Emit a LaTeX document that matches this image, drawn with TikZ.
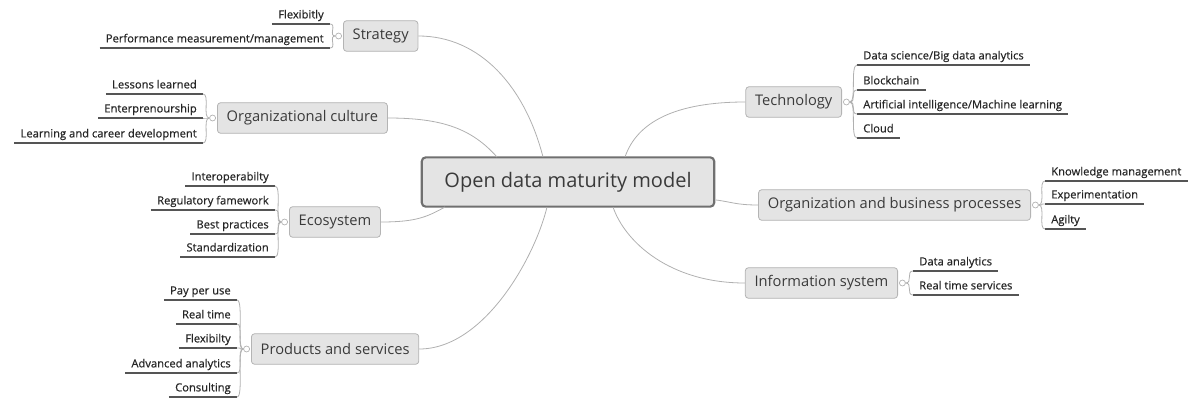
\documentclass[tikz,border=0pt]{standalone}
\usepackage{fontspec}
\setmainfont{Open Sans}
\newfontfamily\leaffont[FakeBold=0.6]{Open Sans}
\usetikzlibrary{positioning}

\definecolor{boxfill}{HTML}{E4E4E4}
\definecolor{rootline}{HTML}{707070}
\definecolor{topicline}{HTML}{B4B4B4}
\definecolor{linkgray}{HTML}{B0B0B0}
\definecolor{ulinegray}{HTML}{555555}
\definecolor{textdark}{HTML}{3A3A3A}

\begin{document}
\begin{tikzpicture}[
    x=0.75pt, y=-0.75pt,
    root/.style={
        draw=rootline,
        line width=1.6pt,
        rounded corners=3pt,
        fill=boxfill,
        inner xsep=17pt,
        minimum height=37pt,
        font=\fontsize{15}{18}\selectfont,
        text=textdark,
    },
    topic/.style={
        draw=topicline,
        line width=0.6pt,
        rounded corners=2.5pt,
        fill=boxfill,
        inner xsep=7pt,
        minimum height=23pt,
        font=\fontsize{11}{13}\selectfont,
        text=textdark,
    },
    knob/.style={
        circle,
        draw=linkgray,
        fill=white,
        inner sep=0pt,
        minimum size=4.5pt,
        line width=0.5pt,
    },
    uline/.style={draw=ulinegray, line width=1.2pt},
    leaf/.style={
        inner xsep=4.5pt,
        inner ysep=4pt,
        text depth=0pt,
        text=black!85,
        font=\leaffont\fontsize{8.4}{10}\selectfont,
        append after command={(\tikzlastnode.south west) edge[uline] (\tikzlastnode.south east)},
    },
    leafL/.style={leaf, anchor=south east},
    leafR/.style={leaf, anchor=south west},
    link/.style={draw=linkgray, line width=0.6pt},
]
    \useasboundingbox (0,0) rectangle (1194,403);

    % Central topic
    \node[root] (odmm) at (568,182) {Open data maturity model};

    % Main topics, left
    \node[topic, anchor=west] (strategy) at (343,36) {Strategy};
    \node[topic, anchor=west] (culture) at (217,118) {Organizational culture};
    \node[topic, anchor=west] (ecosys) at (289,222) {Ecosystem};
    \node[topic, anchor=west] (products) at (251,349) {Products and services};

    % Main topics, right
    \node[topic, anchor=east] (tech) at (842,102) {Technology};
    \node[topic, anchor=east] (business) at (1031,205) {Organization and business processes};
    \node[topic, anchor=east] (infosys) at (898,283) {Information system};

    % Links to the central topic
    \draw[link] (strategy.east) .. controls +(62,0) and +(-18,-70) .. (543,157);
    \draw[link] (culture.east) .. controls +(55,0) and +(-25,-28) .. (497,157);
    \draw[link] (ecosys.east) .. controls +(35,0) and +(-18,10) .. (445,207);
    \draw[link] (products.east) .. controls +(65,0) and +(-12,50) .. (547,207);
    \draw[link] (tech.west) .. controls +(-70,0) and +(12,-35) .. (625,157);
    \draw[link] (business.west) .. controls +(-22,0) and +(16,2) .. (716,200);
    \draw[link] (infosys.west) .. controls +(-75,0) and +(12,35) .. (613,207);

    % Strategy
    \node[leafL] (flex1) at (330,24) {Flexibitly};
    \node[leafL] (perf) at (330,48) {Performance measurement/management};

    % Organizational culture
    \node[leafL] (lessons) at (203,94) {Lessons learned};
    \node[leafL] (entre) at (203,118) {Enterprenourship};
    \node[leafL] (career) at (203,143) {Learning and career development};

    % Ecosystem
    \node[leafL] (interop) at (275,186) {Interoperabilty};
    \node[leafL] (regul) at (275,210) {Regulatory famework};
    \node[leafL] (best) at (275,234) {Best practices};
    \node[leafL] (stand) at (275,257) {Standardization};

    % Products and services
    \node[leafL] (pay) at (237,300) {Pay per use};
    \node[leafL] (realtime) at (237,324) {Real time};
    \node[leafL] (flex2) at (237,348) {Flexibilty};
    \node[leafL] (advanced) at (237,373) {Advanced analytics};
    \node[leafL] (consult) at (237,397) {Consulting};

    % Technology
    \node[leafR] (datasci) at (857,65) {Data science/Big data analytics};
    \node[leafR] (block) at (857,90) {Blockchain};
    \node[leafR] (aiml) at (857,114) {Artificial intelligence/Machine learning};
    \node[leafR] (cloud) at (857,138) {Cloud};

    % Organization and business processes
    \node[leafR] (knowledge) at (1045,181) {Knowledge management};
    \node[leafR] (experiment) at (1045,204) {Experimentation};
    \node[leafR] (agility) at (1045,229) {Agilty};

    % Information system
    \node[leafR] (analytics) at (913,271) {Data analytics};
    \node[leafR] (rtservices) at (913,295) {Real time services};

    % Knobs
    \node[knob, left=0.8pt of strategy] (strategyK) {};
    \node[knob, left=0.8pt of culture] (cultureK) {};
    \node[knob, left=0.8pt of ecosys] (ecosysK) {};
    \node[knob, left=0.8pt of products] (productsK) {};
    \node[knob, right=0.8pt of tech] (techK) {};
    \node[knob, right=0.8pt of business] (businessK) {};
    \node[knob, right=0.8pt of infosys] (infosysK) {};

    % Brackets
    \foreach \t/\c in {strategy/flex1, strategy/perf, culture/lessons, culture/entre,
        culture/career, ecosys/interop, ecosys/regul, ecosys/best, ecosys/stand,
        products/pay, products/realtime, products/flex2, products/advanced, products/consult}
        \draw[link] (\t K.west) .. controls +(-7,0) and +(7,0) .. (\c.south east);
    \foreach \t/\c in {tech/datasci, tech/block, tech/aiml, tech/cloud,
        business/knowledge, business/experiment, business/agility,
        infosys/analytics, infosys/rtservices}
        \draw[link] (\t K.east) .. controls +(7,0) and +(-7,0) .. (\c.south west);
\end{tikzpicture}
\end{document}
